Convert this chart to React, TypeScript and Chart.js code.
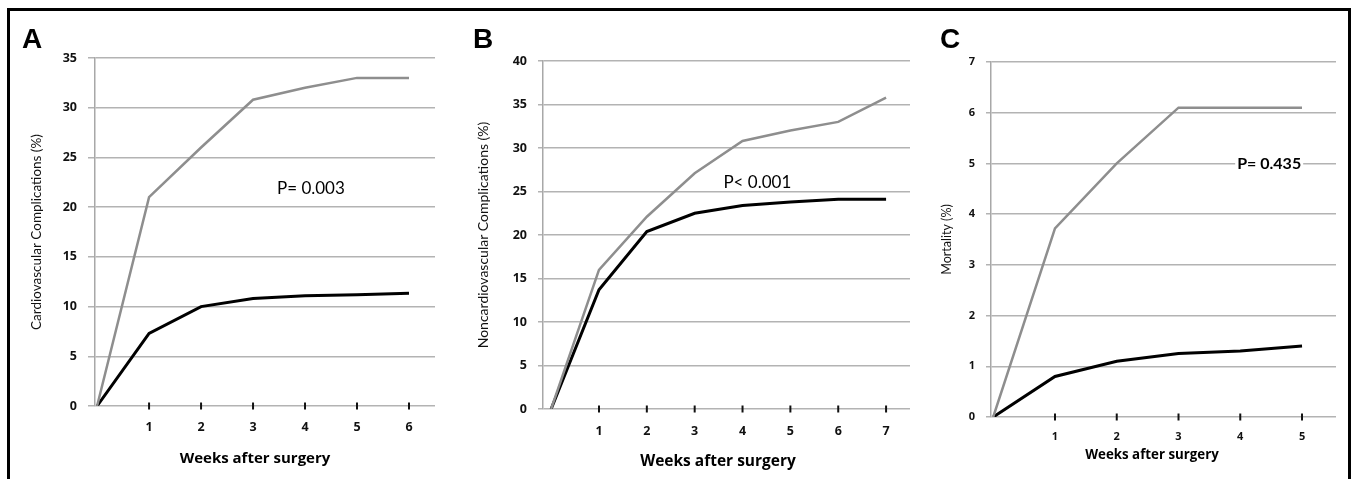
import React, { useEffect, useRef } from "react";
import { Chart, registerables } from "chart.js";

Chart.register(...registerables);

// ---------- DATA ----------
const weeksA = [0, 1, 2, 3, 4, 5, 6];
const cardioGray = [0, 21, 26, 30.8, 32, 33, 33];
const cardioBlack = [0, 7.3, 10, 10.8, 11.1, 11.2, 11.35];
const xTicksA = [1, 2, 3, 4, 5, 6];

const weeksB = [0, 1, 2, 3, 4, 5, 6, 7];
const noncardioGray = [0, 16, 22.1, 27.1, 30.8, 32, 33, 35.8];
const noncardioBlack = [0, 13.7, 20.4, 22.5, 23.4, 23.8, 24.1, 24.1];
const xTicksB = [1, 2, 3, 4, 5, 6, 7];

const weeksC = [0, 1, 2, 3, 4, 5];
const mortalityGray = [0, 3.72, 5, 6.1, 6.1, 6.1];
const mortalityBlack = [0, 0.8, 1.1, 1.25, 1.3, 1.4];
const xTicksC = [1, 2, 3, 4, 5];

const panelLetters = ["A", "B", "C"];
const yTitles = [
  "Cardiovascular Complications (%)",
  "Noncardiovascular Complications (%)",
  "Mortality (%)",
];
const xTitle = "Weeks after surgery";
const pLabels = ["P= 0.003", "P< 0.001", "P= 0.435"];
// P-label anchor in data units [week, value]
const pAnchorA = [3.46, 21.9];
const pAnchorB = [3.6, 26.0];
const pAnchorC = [3.95, 5.0];

// ---------- LAYOUT / STYLE ----------
const W = 1356;
const H = 479;
const GRID = "#b3b3b3";
const GRAY_LINE = "#8e8e8e";

type Panel = {
  letter: string;
  weeks: number[];
  gray: number[];
  black: number[];
  xTicks: number[];
  yMax: number;
  yStep: number;
  xMin: number;
  xMax: number;
  yTitle: string;
  pLabel: string;
  pAnchor: number[];
  pBold: boolean;
  pBg: boolean;
  canvasLeft: number;
  canvasWidth: number;
  areaLeft: number;
  areaRight: number;
  areaTop: number;
  areaBottom: number;
  tickLen: number;
  tickFont: number;
  tickPadX: number;
  yTitleX: number;
  yTitleSize: number;
  xTitleX: number;
  xTitleY: number;
  xTitleSize: number;
  letterX: number;
  pSize: number;
};

const panels: Panel[] = [
  {
    letter: panelLetters[0], weeks: weeksA, gray: cardioGray, black: cardioBlack, xTicks: xTicksA,
    yMax: 35, yStep: 5, xMin: -0.04, xMax: 6.5, yTitle: yTitles[0], pLabel: pLabels[0], pAnchor: pAnchorA,
    pBold: false, pBg: false,
    canvasLeft: 0, canvasWidth: 445, areaLeft: 95, areaRight: 435, areaTop: 58, areaBottom: 406,
    tickLen: 7, tickFont: 12.5, tickPadX: 14, yTitleX: 37, yTitleSize: 13.5,
    xTitleX: 255, xTitleY: 459, xTitleSize: 15, letterX: 22, pSize: 17,
  },
  {
    letter: panelLetters[1], weeks: weeksB, gray: noncardioGray, black: noncardioBlack, xTicks: xTicksB,
    yMax: 40, yStep: 5, xMin: -0.17, xMax: 7.5, yTitle: yTitles[1], pLabel: pLabels[1], pAnchor: pAnchorB,
    pBold: false, pBg: false,
    canvasLeft: 445, canvasWidth: 470, areaLeft: 98, areaRight: 465, areaTop: 61, areaBottom: 409,
    tickLen: 5, tickFont: 12.5, tickPadX: 15, yTitleX: 38, yTitleSize: 14,
    xTitleX: 273, xTitleY: 462, xTitleSize: 15.5, letterX: 28, pSize: 17,
  },
  {
    letter: panelLetters[2], weeks: weeksC, gray: mortalityGray, black: mortalityBlack, xTicks: xTicksC,
    yMax: 7, yStep: 1, xMin: -0.036, xMax: 5.55, yTitle: yTitles[2], pLabel: pLabels[2], pAnchor: pAnchorC,
    pBold: true, pBg: true,
    canvasLeft: 915, canvasWidth: 441, areaLeft: 76, areaRight: 421, areaTop: 62, areaBottom: 417,
    tickLen: 5, tickFont: 11, tickPadX: 13, yTitleX: 32, yTitleSize: 12.5,
    xTitleX: 237, xTitleY: 455, xTitleSize: 13.3, letterX: 25, pSize: 16,
  },
];

const FONT = "Lato, 'Open Sans', sans-serif";
const BOLD_FONT = "'Open Sans', Lato, sans-serif";

const decorPlugin = {
  id: "panelDecor",
  afterDatasetsDraw(chart: any, _args: any, opts: any) {
    const p: Panel = opts.panel;
    const { ctx } = chart;
    const x = chart.scales.x;
    const y = chart.scales.y;
    ctx.save();
    // black tick marks on the x axis line
    const y0 = y.getPixelForValue(0);
    ctx.strokeStyle = "#111";
    ctx.lineWidth = 2;
    p.xTicks.forEach((v) => {
      const px = x.getPixelForValue(v);
      ctx.beginPath();
      ctx.moveTo(px, y0 - 3.5);
      ctx.lineTo(px, y0 + 3.5);
      ctx.stroke();
    });
    // P label
    ctx.font = `${p.pBold ? "bold " : ""}${p.pSize}px ${FONT}`;
    ctx.textBaseline = "middle";
    ctx.textAlign = "left";
    const px = x.getPixelForValue(p.pAnchor[0]);
    const py = y.getPixelForValue(p.pAnchor[1]);
    if (p.pBg) {
      const w = ctx.measureText(p.pLabel).width;
      ctx.fillStyle = "#fff";
      ctx.fillRect(px - 2, py - 6, w + 4, 12);
    }
    ctx.fillStyle = "#000";
    ctx.fillText(p.pLabel, px, py);
    // panel letter
    ctx.font = `bold 28px 'Liberation Sans', Arial, sans-serif`;
    ctx.textBaseline = "alphabetic";
    ctx.fillText(p.letter, p.letterX, 48);
    // x axis title
    ctx.font = `bold ${p.xTitleSize}px ${BOLD_FONT}`;
    ctx.textAlign = "center";
    ctx.textBaseline = "middle";
    ctx.fillStyle = "#000";
    ctx.fillText(xTitle, p.xTitleX, p.xTitleY);
    ctx.restore();
  },
};

function buildConfig(p: Panel): any {
  const yW = p.areaLeft;
  const xH = H - p.areaBottom;
  return {
    type: "line",
    data: {
      datasets: [
        {
          data: p.weeks.map((w, i) => ({ x: w, y: p.gray[i] })),
          borderColor: GRAY_LINE,
          borderWidth: 2.5,
          pointRadius: 0,
          tension: 0,
          fill: false,
        },
        {
          data: p.weeks.map((w, i) => ({ x: w, y: p.black[i] })),
          borderColor: "#000",
          borderWidth: 3,
          pointRadius: 0,
          tension: 0,
          fill: false,
        },
      ],
    },
    options: {
      responsive: false,
      animation: false,
      devicePixelRatio: 1,
      layout: {
        padding: { left: 0, top: p.areaTop, right: p.canvasWidth - p.areaRight, bottom: 0 },
      },
      plugins: {
        legend: { display: false },
        tooltip: { enabled: false },
        panelDecor: { panel: p },
      },
      scales: {
        x: {
          type: "linear",
          min: p.xMin,
          max: p.xMax,
          afterBuildTicks: (s: any) => {
            s.ticks = p.xTicks.map((v) => ({ value: v }));
          },
          afterFit: (s: any) => {
            s.height = xH;
          },
          grid: { display: false, drawTicks: false },
          border: { display: false },
          ticks: {
            autoSkip: false,
            maxRotation: 0,
            padding: p.tickPadX,
            color: "#111",
            font: { family: BOLD_FONT, size: p.tickFont, weight: "bold" },
          },
        },
        y: {
          min: 0,
          max: p.yMax,
          afterFit: (s: any) => {
            s.width = yW;
          },
          ticks: {
            stepSize: p.yStep,
            padding: 11,
            color: "#111",
            font: { family: BOLD_FONT, size: p.tickFont, weight: "bold" },
          },
          grid: {
            color: GRID,
            lineWidth: 1.5,
            drawTicks: true,
            tickLength: p.tickLen,
            tickColor: GRID,
          },
          border: { display: true, color: "#a8a8a8", width: 1.5 },
          title: {
            display: true,
            text: p.yTitle,
            color: "#111",
            font: { family: FONT, size: p.yTitleSize, lineHeight: 1 },
            padding: { top: p.yTitleX - p.yTitleSize / 2, bottom: 0 },
          },
        },
      },
    },
    plugins: [decorPlugin],
  };
}

function PanelChart({ p }: { p: Panel }) {
  const ref = useRef<HTMLCanvasElement | null>(null);
  useEffect(() => {
    if (!ref.current) return;
    const chart = new Chart(ref.current, buildConfig(p));
    return () => chart.destroy();
  }, [p]);
  return (
    <canvas
      ref={ref}
      width={p.canvasWidth}
      height={H}
      style={{ position: "absolute", left: p.canvasLeft, top: 0, width: p.canvasWidth, height: H }}
    />
  );
}

export default function App() {
  return (
    <div
      style={{
        position: "fixed",
        left: 0,
        top: 0,
        width: W,
        height: H,
        background: "#fff",
        overflow: "hidden",
      }}
    >
      <div
        style={{
          position: "absolute",
          left: 7,
          top: 8,
          width: 1344,
          height: 490,
          boxSizing: "border-box",
          border: "3px solid #000",
        }}
      />
      {panels.map((p) => (
        <PanelChart key={p.letter} p={p} />
      ))}
    </div>
  );
}
